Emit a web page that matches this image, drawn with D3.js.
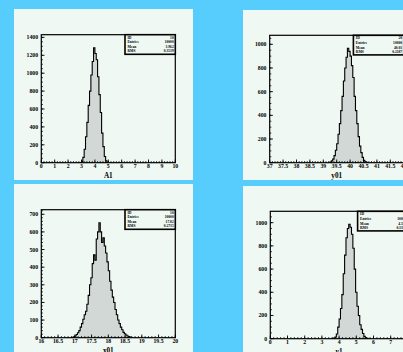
<!DOCTYPE html>
<html>
<head>
<meta charset="utf-8">
<script src="https://cdn.jsdelivr.net/npm/d3@7"></script>
<style>
  html, body { margin: 0; padding: 0; background: #56cdfd; overflow: hidden; }
  svg { display: block; }
  text { font-family: "Liberation Serif", "DejaVu Serif", serif; font-weight: bold; fill: #000; }
</style>
</head>
<body>
<svg id="canvas" width="403" height="352"></svg>
<script>
// ---- histogram contents (bin lower edge of first filled bin, bin width, counts) ----
const a1Start = 2.9, a1Width = 0.1;
const a1Counts = [2, 15, 60, 150, 290, 450, 640, 800, 980, 1130, 1283, 1220, 1150, 960, 760, 560, 330, 180, 70, 20, 5];

const y01Start = 39.25, y01Width = 0.05;
const y01Counts = [5, 15, 30, 60, 105, 160, 240, 330, 440, 560, 690, 800, 890, 966, 940, 900, 820, 720, 560, 440, 330, 220, 140, 85, 45, 20, 8, 3];

const x01Start = 16.92, x01Width = 0.04;
const x01Counts = [2, 5, 10, 18, 28, 40, 60, 80, 105, 130, 150, 190, 240, 300, 340, 420, 470, 440, 560, 600, 652, 600, 540, 567, 520, 480, 430, 380, 320, 270, 230, 200, 160, 130, 100, 80, 60, 45, 30, 22, 15, 10, 6, 3];

const y1Start = 3.6, y1Width = 0.08;
const y1Counts = [3, 6, 15, 40, 100, 170, 260, 380, 560, 720, 870, 950, 986, 960, 900, 780, 600, 400, 280, 200, 120, 80, 45, 20, 8, 3];

// ---- axis tick labels ----
const a1XTicks = [0, 1, 2, 3, 4, 5, 6, 7, 8, 9, 10];
const a1YTicks = [0, 200, 400, 600, 800, 1000, 1200, 1400];
const y01XTicks = [37, 37.5, 38, 38.5, 39, 39.5, 40, 40.5, 41, 41.5, 42];
const y01YTicks = [0, 200, 400, 600, 800, 1000];
const x01XTicks = [16, 16.5, 17, 17.5, 18, 18.5, 19, 19.5, 20];
const x01YTicks = [0, 100, 200, 300, 400, 500, 600, 700];
const y1XTicks = [0, 1, 2, 3, 4, 5, 6, 7, 8];
const y1YTicks = [0, 200, 400, 600, 800, 1000];

// ---- statistics boxes ----
const statNames = ["ID", "Entries", "Mean", "RMS"];
const a1Stats = ["10", "10000", "3.962", "0.3539"];
const y01Stats = ["20", "10000", "40.01", "0.2187"];
const x01Stats = ["10", "10000", "17.82", "0.2735"];
const y1Stats = ["10", "10000", "4.593", "0.3393"];

// ---- axis titles ----
const titles = ["A1", "y01", "x01", "y1"];

const svg = d3.select("#canvas");

const pads = [
  { title: titles[0], start: a1Start, width: a1Width, counts: a1Counts, xt: a1XTicks, yt: a1YTicks, stats: a1Stats,
    pad: [14, 9, 179, 171], frame: [41.3, 34.7, 175.3, 162.7], xdom: [0, 10], ymax: 1430, xminor: 0.2, yminor: 50 },
  { title: titles[1], start: y01Start, width: y01Width, counts: y01Counts, xt: y01XTicks, yt: y01YTicks, stats: y01Stats,
    pad: [243, 10, 179, 170], frame: [269.7, 35.3, 403.7, 162.7], xdom: [37, 42], ymax: 1076, xminor: 0.1, yminor: 50 },
  { title: titles[2], start: x01Start, width: x01Width, counts: x01Counts, xt: x01XTicks, yt: x01YTicks, stats: x01Stats,
    pad: [14, 184, 179, 175], frame: [41.3, 209.7, 175.3, 337.7], xdom: [16, 20], ymax: 726, xminor: 0.1, yminor: 20 },
  { title: titles[3], start: y1Start, width: y1Width, counts: y1Counts, xt: y1XTicks, yt: y1YTicks, stats: y1Stats,
    pad: [243, 186, 179, 175], frame: [270.3, 211.3, 407.9, 338.7], xdom: [0, 8], ymax: 1098, xminor: 0.2, yminor: 50 }
];

pads.forEach(p => {
  const g = svg.append("g");
  const [px, py, pw, ph] = p.pad;
  const [fl, ft, fr, fb] = p.frame;

  g.append("rect").attr("x", px).attr("y", py).attr("width", pw).attr("height", ph)
    .attr("fill", "#eff8f3");

  const x = d3.scaleLinear().domain(p.xdom).range([fl, fr]);
  const y = d3.scaleLinear().domain([0, p.ymax]).range([fb, ft]);

  // step outline of the histogram
  const pts = [[p.start, 0]];
  p.counts.forEach((c, i) => {
    const x0 = p.start + i * p.width;
    pts.push([x0, c], [x0 + p.width, c]);
  });
  pts.push([p.start + p.counts.length * p.width, 0]);

  g.append("path")
    .attr("d", d3.area().x(d => x(d[0])).y0(y(0)).y1(d => y(d[1]))(pts))
    .attr("fill", "#d2d8d5");
  g.append("path")
    .attr("d", d3.line().x(d => x(d[0])).y(d => y(d[1]))(pts))
    .attr("fill", "none").attr("stroke", "#000").attr("stroke-width", 1.1);

  // frame
  g.append("rect").attr("x", fl).attr("y", ft).attr("width", fr - fl).attr("height", fb - ft)
    .attr("fill", "none").attr("stroke", "#000").attr("stroke-width", 1.2);

  // x axis: major and minor ticks pointing into the frame
  const xMinor = d3.range(p.xdom[0], p.xdom[1] + 1e-9, p.xminor);
  g.selectAll(null).data(xMinor).join("line")
    .attr("x1", d => x(d)).attr("x2", d => x(d))
    .attr("y1", fb).attr("y2", fb - 1.6)
    .attr("stroke", "#000").attr("stroke-width", 0.8);
  g.selectAll(null).data(p.xt).join("line")
    .attr("x1", d => x(d)).attr("x2", d => x(d))
    .attr("y1", fb).attr("y2", fb - 3.2)
    .attr("stroke", "#000").attr("stroke-width", 0.9);
  g.selectAll(null).data(p.xt).join("text")
    .attr("x", d => x(d)).attr("y", fb + 5.6)
    .attr("text-anchor", "middle").attr("font-size", 5.8)
    .text(d => d3.format("~g")(d));

  // y axis
  const yMinor = d3.range(0, p.ymax + 1e-9, p.yminor);
  g.selectAll(null).data(yMinor).join("line")
    .attr("x1", fl).attr("x2", fl + 1.6)
    .attr("y1", d => y(d)).attr("y2", d => y(d))
    .attr("stroke", "#000").attr("stroke-width", 0.8);
  g.selectAll(null).data(p.yt).join("line")
    .attr("x1", fl).attr("x2", fl + 3.2)
    .attr("y1", d => y(d)).attr("y2", d => y(d))
    .attr("stroke", "#000").attr("stroke-width", 0.9);
  g.selectAll(null).data(p.yt).join("text")
    .attr("x", fl - 3.2).attr("y", d => y(d) + 2)
    .attr("text-anchor", "end").attr("font-size", 5.8)
    .text(d => d);

  // axis title
  g.append("text").attr("x", (fl + fr) / 2).attr("y", fb + 15)
    .attr("text-anchor", "middle").attr("font-size", 7.2).text(p.title);

  // statistics box
  const bl = fr - 50.3, bt = ft, bw = 50.3, bh = 19.6;
  g.append("rect").attr("x", bl).attr("y", bt).attr("width", bw).attr("height", bh)
    .attr("fill", "#eff8f3").attr("stroke", "#000").attr("stroke-width", 1.6);
  const rowY = [3.9, 8.6, 13.2, 17.6];
  statNames.forEach((n, i) => {
    g.append("text").attr("x", bl + 2.4).attr("y", bt + rowY[i])
      .attr("font-size", 3.6).attr("font-weight", "normal").text(n);
    g.append("text").attr("x", bl + bw - 1.6).attr("y", bt + rowY[i])
      .attr("text-anchor", "end").attr("font-size", 3.6).attr("font-weight", "normal").text(p.stats[i]);
  });
});
</script>
</body>
</html>
